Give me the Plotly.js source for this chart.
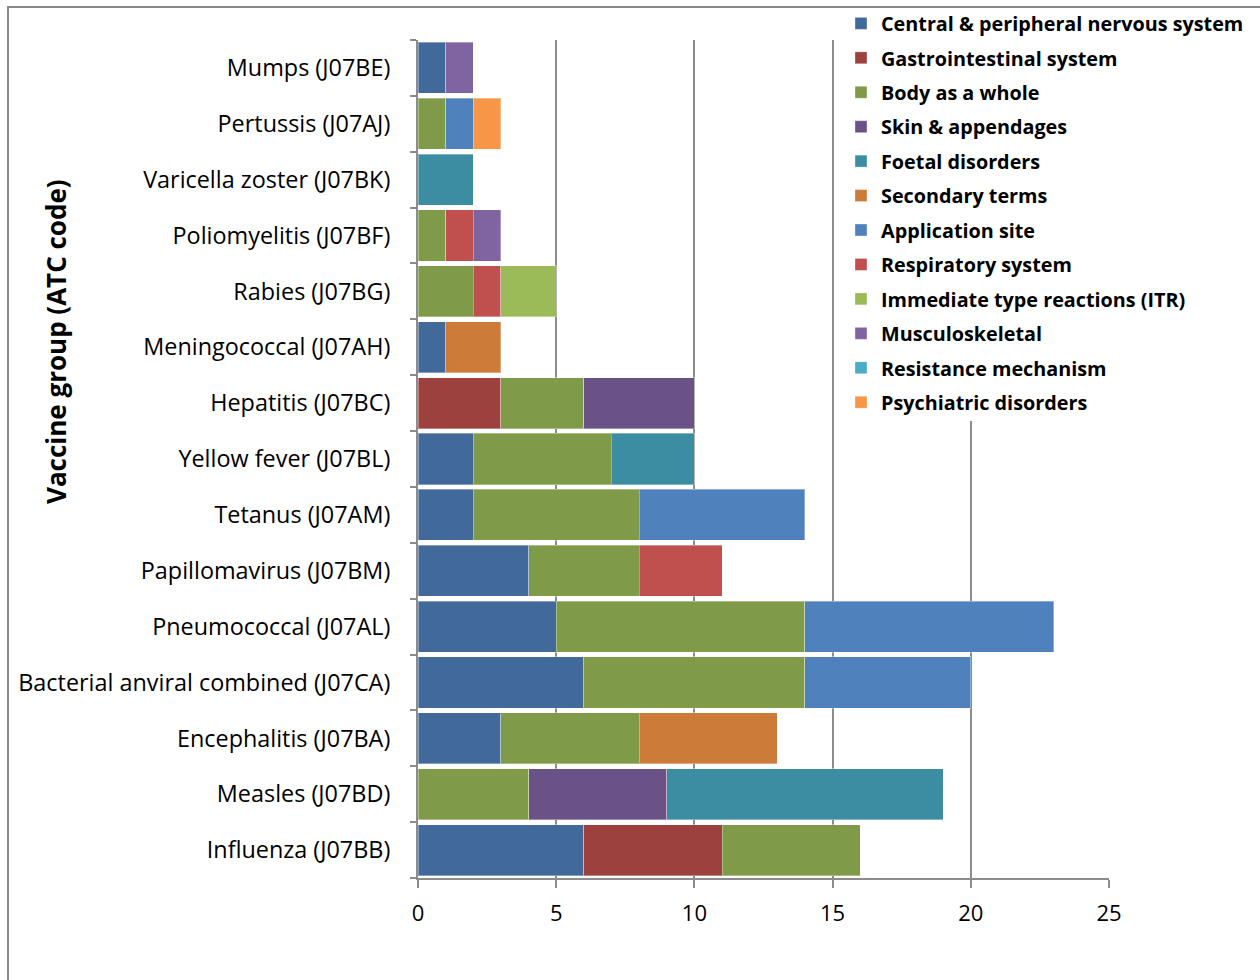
<!DOCTYPE html>
<html>
<head>
<meta charset="utf-8">
<script src="https://cdn.plot.ly/plotly-3.0.1.min.js"></script>
<style>
html,body{margin:0;padding:0;background:#fff;}
#chart{width:1260px;height:980px;}
</style>
</head>
<body>
<div id="chart"></div>
<script>
// Categories (bottom to top)
const categories = [
  "Influenza (J07BB)",
  "Measles (J07BD)",
  "Encephalitis (J07BA)",
  "Bacterial anviral combined (J07CA)",
  "Pneumococcal (J07AL)",
  "Papillomavirus (J07BM)",
  "Tetanus (J07AM)",
  "Yellow fever (J07BL)",
  "Hepatitis (J07BC)",
  "Meningococcal (J07AH)",
  "Rabies (J07BG)",
  "Poliomyelitis (J07BF)",
  "Varicella zoster (J07BK)",
  "Pertussis (J07AJ)",
  "Mumps (J07BE)"
];

const seriesNames = [
  "Central & peripheral nervous system",
  "Gastrointestinal system",
  "Body as a whole",
  "Skin & appendages",
  "Foetal disorders",
  "Secondary terms",
  "Application site",
  "Respiratory system",
  "Immediate type reactions (ITR)",
  "Musculoskeletal",
  "Resistance mechanism",
  "Psychiatric disorders"
];

const cnsValues        = [6, null, 3, 6, 5, 4, 2, 2, null, 1, null, null, null, null, 1];
const giValues         = [5, null, null, null, null, null, null, null, 3, null, null, null, null, null, null];
const bodyValues       = [5, 4, 5, 8, 9, 4, 6, 5, 3, null, 2, 1, null, 1, null];
const skinValues       = [null, 5, null, null, null, null, null, null, 4, null, null, null, null, null, null];
const foetalValues     = [null, 10, null, null, null, null, null, 3, null, null, null, null, 2, null, null];
const secondaryValues  = [null, null, 5, null, null, null, null, null, null, 2, null, null, null, null, null];
const appSiteValues    = [null, null, null, 6, 9, null, 6, null, null, null, null, null, null, 1, null];
const respValues       = [null, null, null, null, null, 3, null, null, null, null, 1, 1, null, null, null];
const itrValues        = [null, null, null, null, null, null, null, null, null, null, 2, null, null, null, null];
const muscValues       = [null, null, null, null, null, null, null, null, null, null, null, 1, null, null, 1];
const resistValues     = [null, null, null, null, null, null, null, null, null, null, null, null, null, null, null];
const psychValues      = [null, null, null, null, null, null, null, null, null, null, null, null, null, 1, null];

const xTickValues = [0, 5, 10, 15, 20, 25];

const allValues = [cnsValues, giValues, bodyValues, skinValues, foetalValues, secondaryValues,
                   appSiteValues, respValues, itrValues, muscValues, resistValues, psychValues];

const colors = ["#416a9b", "#9d413f", "#7f9a48", "#6a5287", "#3d8da2", "#cc7b38",
                "#4f81bd", "#c0504d", "#9bbb59", "#8064a2", "#4bacc6", "#f79646"];

const traces = seriesNames.map((name, i) => ({
  type: "bar",
  orientation: "h",
  name: name,
  y: categories,
  x: allValues[i],
  legendgroup: "g" + i,
  marker: {color: colors[i], line: {color: "rgba(255,255,255,0.35)", width: 1}},
  hoverinfo: "x+y+name"
}));

const W = 1260, H = 980;
const L = 418, R = 1109, T = 40, B = 878;
const pw = R - L, ph = B - T;
const px = v => (v - L) / pw;
const py = v => 1 - (v - T) / ph;

const gridColor = "#8c8c8c";

const layout = {
  width: W, height: H,
  margin: {l: L, r: W - R, t: T, b: H - B, pad: 0, autoexpand: false},
  paper_bgcolor: "#ffffff",
  plot_bgcolor: "#ffffff",
  barmode: "stack",
  bargap: 0.085,
  font: {family: "Open Sans, sans-serif", color: "#000000"},
  showlegend: true,
  legend: {
    x: px(841), y: py(4), xanchor: "left", yanchor: "top",
    bgcolor: "rgba(0,0,0,0)",
    traceorder: "grouped",
    tracegroupgap: 5.7,
    font: {family: "Open Sans, sans-serif", size: 19.8, color: "#000000", weight: "bold"},
    borderwidth: 0
  },
  xaxis: {
    range: [0, 25],
    tickvals: xTickValues,
    ticktext: xTickValues.map(String),
    showgrid: true, gridcolor: gridColor, gridwidth: 2,
    zeroline: false,
    showline: true, linecolor: gridColor, linewidth: 2,
    ticks: "outside", ticklen: 8, tickcolor: gridColor, tickwidth: 2,
    tickfont: {size: 22, color: "#000000"},
    ticklabelstandoff: 7,
    fixedrange: true
  },
  yaxis: {
    type: "category",
    categoryorder: "array",
    categoryarray: categories,
    tickson: "boundaries",
    ticks: "outside", ticklen: 6, tickcolor: gridColor, tickwidth: 2,
    showline: true, linecolor: gridColor, linewidth: 2,
    showgrid: false, zeroline: false,
    tickfont: {size: 23.4, color: "#000000"},
    ticklabelstandoff: 21,
    fixedrange: true
  },
  annotations: [{
    text: "<b>Vaccine group (ATC code)</b>",
    xref: "paper", yref: "paper",
    x: px(56), y: py(342),
    xanchor: "center", yanchor: "middle",
    textangle: -90,
    showarrow: false,
    font: {family: "Open Sans, sans-serif", size: 26, color: "#000000"}
  }],
  shapes: [{
    type: "rect", xref: "paper", yref: "paper",
    x0: px(837), x1: px(1259), y0: py(421), y1: py(9),
    line: {width: 0},
    fillcolor: "#ffffff",
    layer: "above"
  }, {
    type: "rect", xref: "paper", yref: "paper",
    x0: px(8), x1: px(1300), y0: py(1020), y1: py(7),
    line: {color: "#8a8a8a", width: 2},
    fillcolor: "rgba(0,0,0,0)",
    layer: "above"
  }]
};

Plotly.newPlot("chart", traces, layout, {displayModeBar: false, staticPlot: true});
</script>
</body>
</html>
